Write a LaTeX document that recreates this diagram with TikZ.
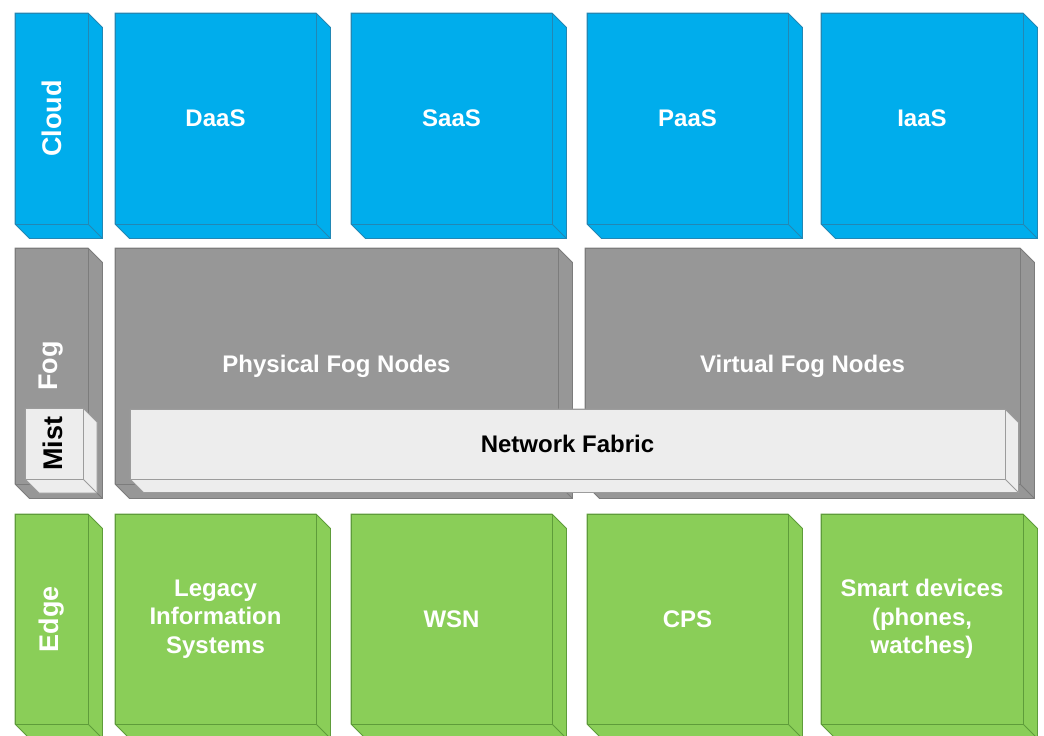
\documentclass[tikz,border=0pt]{standalone}
\usepackage{fontspec}
\setmainfont{Liberation Sans}
\usepackage{graphicx}

\definecolor{cloudfill}{HTML}{00ADEC}
\definecolor{cloudline}{HTML}{2287B4}
\definecolor{fogfill}{HTML}{979797}
\definecolor{fogline}{HTML}{7C7C7C}
\definecolor{mistfill}{HTML}{EDEDED}
\definecolor{mistline}{HTML}{9C9C9C}
\definecolor{edgefill}{HTML}{8ACE58}
\definecolor{edgeline}{HTML}{5E9C3A}

\tikzset{
  boxface/.style={line width=0.8pt, line join=miter, inner sep=0pt, outer sep=0pt,
    align=center, font=\bfseries\fontsize{24}{28.5}\selectfont},
  cloudbox/.style={fill=cloudfill, draw=cloudline, text=white, line width=0.8pt, line join=miter},
  fogbox/.style={fill=fogfill, draw=fogline, text=white, line width=0.8pt, line join=miter},
  mistbox/.style={fill=mistfill, draw=mistline, text=black, line width=0.8pt, line join=miter},
  edgebox/.style={fill=edgefill, draw=edgeline, text=white, line width=0.8pt, line join=miter},
}

% layer names run upwards in the narrow left column
\newcommand{\sidelabel}[1]{\rotatebox{90}{\fontsize{27}{30}\selectfont #1}}

% extruded box: #1 name, #2 left, #3 top, #4 right, #5 bottom, #6 depth, #7 style, #8 text
\newcommand{\cubebox}[8]{%
  \filldraw[#7] (#2,#3) -- (#4,#3) -- ++(#6,#6) -- (#4+#6,#5+#6) -- (#2+#6,#5+#6) -- (#2,#5) -- cycle;
  \draw[#7] (#4,#5) -- ++(#6,#6);
  \node[#7, boxface, minimum width={#4pt-#2pt}, minimum height={#5pt-#3pt}]
    (#1) at ({(#2+#4)/2},{(#3+#5)/2}) {#8};
}

\begin{document}
\begin{tikzpicture}[x=1pt, y=-1pt]
  \useasboundingbox (0,0) rectangle (1044,736);
  \clip (0,0) rectangle (1044,736);

  % Cloud layer
  \cubebox{cloud}{15}{13}{88}{224}{14.5}{cloudbox}{\sidelabel{Cloud}}
  \cubebox{daas}{115}{13}{316}{224}{14.5}{cloudbox}{DaaS}
  \cubebox{saas}{351}{13}{552}{224}{14.5}{cloudbox}{SaaS}
  \cubebox{paas}{587}{13}{788}{224}{14.5}{cloudbox}{PaaS}
  \cubebox{iaas}{821}{13}{1023}{224}{14.5}{cloudbox}{IaaS}

  % Fog layer with mist and network fabric in front
  \cubebox{fog}{15}{248}{88}{484}{14.5}{fogbox}{\sidelabel{Fog}}
  \cubebox{mist}{25}{408}{83}{479}{14}{mistbox}{\sidelabel{Mist}\hspace*{3pt}}
  \cubebox{physfog}{115}{248}{558}{484}{14.5}{fogbox}{Physical Fog Nodes}
  \cubebox{virtfog}{585}{248}{1020}{484}{14.5}{fogbox}{Virtual Fog Nodes}
  \cubebox{fabric}{130}{409}{1005}{479}{13.5}{mistbox}{Network Fabric}

  % Edge layer
  \cubebox{edge}{15}{514}{88}{724}{14.5}{edgebox}{\sidelabel{Edge}}
  \cubebox{legacy}{115}{514}{316}{724}{14.5}{edgebox}{Legacy\\Information\\Systems}
  \cubebox{wsn}{351}{514}{552}{724}{14.5}{edgebox}{WSN}
  \cubebox{cps}{587}{514}{788}{724}{14.5}{edgebox}{CPS}
  \cubebox{smart}{821}{514}{1023}{724}{14.5}{edgebox}{Smart devices\\(phones,\\watches)}
\end{tikzpicture}
\end{document}
